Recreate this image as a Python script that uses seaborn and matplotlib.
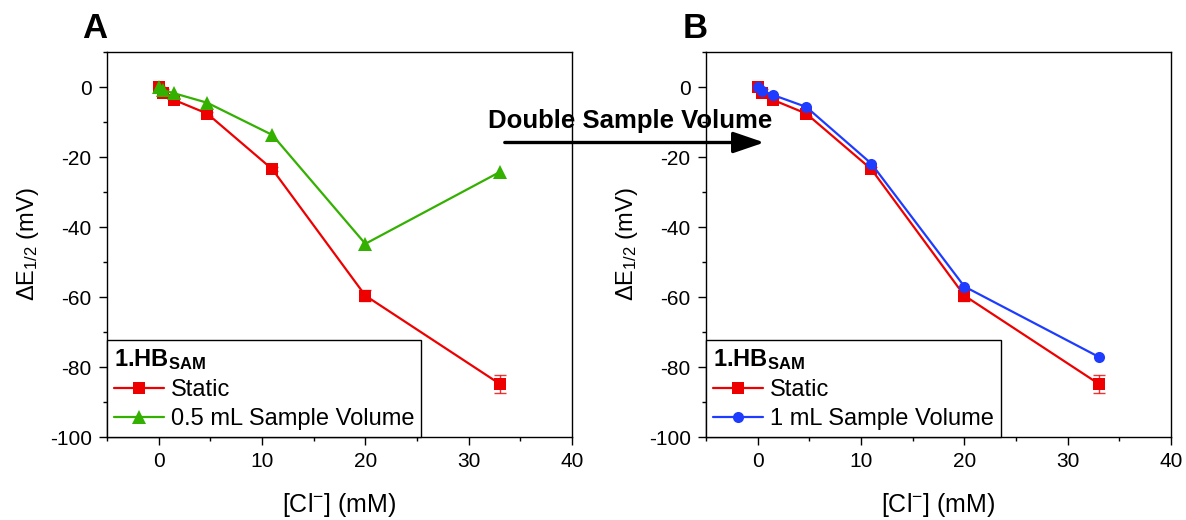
import numpy as np
import pandas as pd
import matplotlib
matplotlib.use("Agg")
import matplotlib.pyplot as plt
import seaborn as sns
from matplotlib.ticker import MultipleLocator

sns.set_style("white")
plt.rcParams['font.family'] = ['Liberation Sans', 'DejaVu Sans']
plt.rcParams['mathtext.fontset'] = 'custom'
plt.rcParams['mathtext.rm'] = 'Liberation Sans'
plt.rcParams['mathtext.it'] = 'Liberation Sans:italic'
plt.rcParams['mathtext.bf'] = 'Liberation Sans:bold'
plt.rcParams['axes.unicode_minus'] = False
for k in ['text.color', 'axes.labelcolor', 'xtick.color', 'ytick.color']:
    plt.rcParams[k] = 'black'

# Data
chloride = [0, 0.4, 1.5, 4.7, 11, 20, 33]
static = [0, -1.6, -3.7, -7.6, -23.5, -59.6, -84.8]
static_err = [0.4, 0.9, 0.6, 0.6, 0.6, 1.5, 2.6]
half_ml = [0, -0.9, -1.8, -4.5, -13.7, -44.8, -24.3]
one_ml = [0, -1.0, -2.3, -5.7, -21.9, -57.0, -77.1]

RED = "#ee0000"
GREEN = "#33b000"
BLUE = "#1e3cff"

fig = plt.figure(figsize=(11.86, 5.2), dpi=100)
axA = fig.add_axes([0.0902, 0.1596, 0.3921, 0.7404])
axB = fig.add_axes([0.5953, 0.1596, 0.3921, 0.7404])

def draw(ax, other, other_label, other_color, other_marker, other_ms):
    df = pd.DataFrame({"x": chloride, "static": static, "other": other})
    ax.errorbar(chloride, static, yerr=static_err, fmt='none', ecolor=RED,
                elinewidth=1.0, capsize=4, capthick=1.0, zorder=2, alpha=0.8)
    sns.lineplot(data=df, x="x", y="static", ax=ax, color=RED, marker='s',
                 markersize=8, markeredgewidth=0, linewidth=1.6,
                 label="Static", zorder=3)
    sns.lineplot(data=df, x="x", y="other", ax=ax, color=other_color,
                 marker=other_marker, markersize=other_ms, markeredgewidth=0,
                 linewidth=1.6, label=other_label, zorder=4)
    ax.set_xlim(-5, 40)
    ax.set_ylim(-100, 10)
    ax.xaxis.set_major_locator(MultipleLocator(10))
    ax.xaxis.set_minor_locator(MultipleLocator(5))
    ax.yaxis.set_minor_locator(MultipleLocator(10))
    ax.set_yticks([0, -20, -40, -60, -80, -100])
    ax.tick_params(axis='both', which='major', direction='out', length=6,
                   width=1.0, labelsize=15, pad=5, bottom=True, left=True,
                   top=False, right=False, colors='black')
    ax.tick_params(axis='both', which='minor', direction='out', length=3,
                   width=1.0, bottom=True, left=True, top=False, right=False)
    for s in ax.spines.values():
        s.set_visible(True)
        s.set_color('black')
        s.set_linewidth(1.0)
    ax.set_xlabel("[Cl$^{-}$] (mM)", fontsize=18, labelpad=14)
    ax.set_ylabel(r"$\Delta$E$_{1/2}$ (mV)", fontsize=17, labelpad=6)
    leg = ax.legend(loc='lower left', title=r"1.HB$_{\mathbf{SAM}}$",
                    fontsize=17, title_fontproperties={'weight': 'bold', 'size': 17},
                    frameon=True, fancybox=False, edgecolor='black',
                    borderaxespad=0, handlelength=2.1, handletextpad=0.3,
                    labelspacing=0.3, borderpad=0.3, framealpha=1)
    leg._legend_box.align = "left"
    leg.get_frame().set_linewidth(1.0)

draw(axA, half_ml, "0.5 mL Sample Volume", GREEN, '^', 10)
draw(axB, one_ml, "1 mL Sample Volume", BLUE, 'o', 8)

fig.text(95 / 1186, 1 - 29 / 520, "A", fontsize=25, fontweight='bold',
         ha='center', va='center')
fig.text(695 / 1186, 1 - 29 / 520, "B", fontsize=25, fontweight='bold',
         ha='center', va='center')

fig.text(630 / 1186, 1 - 121 / 520, "Double Sample Volume", fontsize=18.5,
         fontweight='bold', ha='center', va='center')
fig.patches.append(matplotlib.patches.FancyArrowPatch(
    (502 / 1186, 1 - 142.5 / 520), (767 / 1186, 1 - 142.5 / 520),
    transform=fig.transFigure, arrowstyle='-|>,head_length=19,head_width=6.5',
    color='black', linewidth=2.4, mutation_scale=1))

fig.savefig("out.png", dpi=100)
